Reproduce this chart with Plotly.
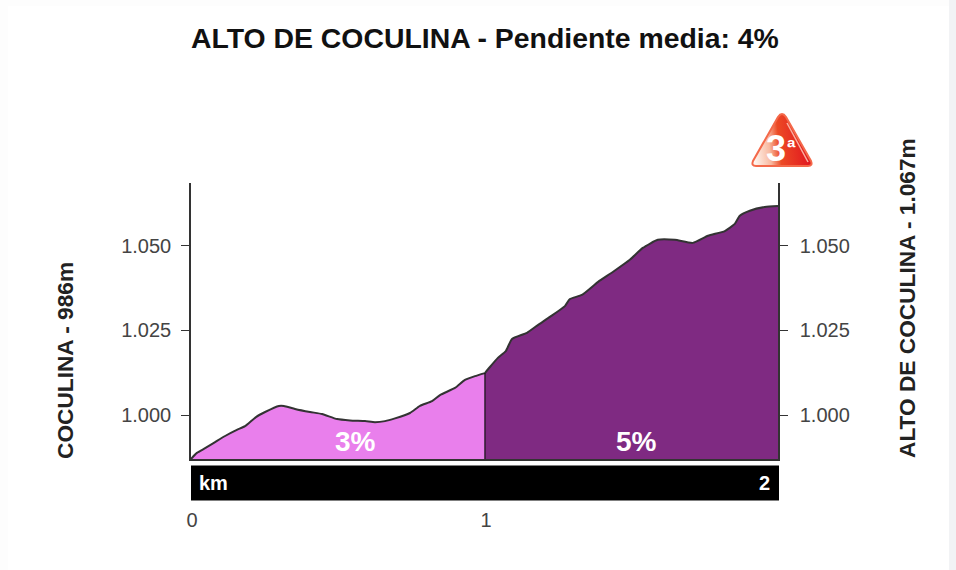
import base64
import plotly.graph_objects as go

TITLE = "ALTO DE COCULINA - Pendiente media: 4%"
START_LABEL = "COCULINA - 986m"
END_LABEL = "ALTO DE COCULINA - 1.067m"
KM_LOW = [0, 0.02, 0.048, 0.082, 0.116, 0.156, 0.184, 0.221, 0.252, 0.299, 0.316, 0.354, 0.405, 0.446,
          0.497, 0.541, 0.592, 0.626, 0.66, 0.694, 0.745, 0.779, 0.82, 0.847, 0.898, 0.932, 0.966, 1.0]
ELEV_LOW = [987.0, 988.8, 990.2, 992.0, 993.8, 995.6, 996.7, 999.4, 1000.9, 1002.7, 1002.7, 1001.8, 1000.9, 1000.3,
            998.8, 998.4, 998.2, 997.9, 998.2, 999.0, 1000.6, 1002.7, 1004.1, 1005.9, 1008.0, 1010.4, 1011.5, 1012.4]
KM_HIGH = [1.0, 1.017, 1.044, 1.071, 1.092, 1.143, 1.18, 1.221, 1.272, 1.289, 1.33, 1.384, 1.435, 1.493,
           1.537, 1.588, 1.646, 1.707, 1.759, 1.816, 1.85, 1.867, 1.901, 1.952, 1.997]
ELEV_HIGH = [1012.4, 1014.2, 1016.9, 1018.9, 1022.5, 1024.3, 1026.6, 1029.0, 1032.2, 1034.3, 1035.5, 1039.3, 1042.3, 1045.9,
             1049.4, 1051.8, 1051.8, 1050.9, 1053.0, 1054.4, 1056.5, 1058.9, 1060.4, 1061.5, 1061.8]
SEGMENT_LABELS = ["3%", "5%"]
SEGMENT_KM = [0.56, 1.517]
Y_TICKS = [1000, 1025, 1050]
Y_TICK_TEXT = ["1.000", "1.025", "1.050"]
X_TICKS = [0, 1]

W, H = 956, 570
L, R, T, B = 191, 778, 183, 459
FONT = "Liberation Sans"
AXIS = "#333333"


def px(x):
    return (x - L) / (R - L)


def py(y):
    return (B - y) / (B - T)


svg = """<svg xmlns='http://www.w3.org/2000/svg' viewBox='0 0 64 58'>
<defs><linearGradient id='g' x1='0' y1='0.6' x2='1' y2='0.5'>
<stop offset='0' stop-color='#fff6f0'/><stop offset='0.28' stop-color='#f8b9a0'/>
<stop offset='0.45' stop-color='#ec4a25'/><stop offset='1' stop-color='#e0101e'/></linearGradient></defs>
<path d='M32 3 Q30 3 28 6 L3 50 Q1 55 6 55 L58 55 Q63 55 61 50 L36 6 Q34 3 32 3 Z' fill='url(#g)' stroke='#f4694a' stroke-width='2'/>
<path d='M37 12 L58 51' stroke='#f9b0a0' stroke-width='1.5' fill='none'/>
</svg>"""
badge = "data:image/svg+xml;base64," + base64.b64encode(svg.encode()).decode()

fig = go.Figure()
fig.add_trace(go.Scatter(x=KM_LOW, y=ELEV_LOW, mode="lines", fill="tozeroy", fillcolor="#e97fec",
                         line=dict(color="#333333", width=2, shape="spline", smoothing=0.5), hoverinfo="skip", showlegend=False))
fig.add_trace(go.Scatter(x=KM_HIGH, y=ELEV_HIGH, mode="lines", fill="tozeroy", fillcolor="#7f2a82",
                         line=dict(color="#333333", width=2, shape="spline", smoothing=0.5), hoverinfo="skip", showlegend=False))
fig.add_trace(go.Scatter(x=[KM_LOW[-1], KM_LOW[-1]], y=[ELEV_LOW[0], ELEV_LOW[-1]], mode="lines",
                         line=dict(color="#111111", width=1.2), hoverinfo="skip", showlegend=False))

shapes = [
    dict(type="rect", xref="paper", yref="paper", x0=px(0), x1=px(W), y0=py(0), y1=py(H),
         fillcolor="#fdfdfd", line_width=0, layer="below"),
    dict(type="rect", xref="paper", yref="paper", x0=px(8), x1=px(949), y0=py(6), y1=py(H),
         fillcolor="#ffffff", line_width=0, layer="below"),
    dict(type="rect", xref="paper", yref="paper", x0=px(949), x1=px(W), y0=py(0), y1=py(H),
         fillcolor="#f2f3f5", line_width=0, layer="below"),
    dict(type="rect", xref="paper", yref="paper", x0=px(191), x1=px(779), y0=py(465.5), y1=py(500.5),
         fillcolor="#000000", line_width=0, layer="above"),
]

ann = [
    dict(text=f"<b>{TITLE}</b>", x=px(485), y=py(38), font=dict(size=28.4, color="#111111")),
    dict(text=f"<b>{START_LABEL}</b>", x=px(65), y=py(361), textangle=-90, font=dict(size=22.7, color="#222222")),
    dict(text=f"<b>{END_LABEL}</b>", x=px(907), y=py(298), textangle=-90, font=dict(size=22.7, color="#222222")),
    dict(text="<b>km</b>", x=px(213.5), y=py(483), font=dict(size=20, color="#ffffff")),
    dict(text="<b>2</b>", x=px(764), y=py(483), font=dict(size=20, color="#ffffff")),
    dict(text=f"<b>{SEGMENT_LABELS[0]}</b>", x=px(191 + SEGMENT_KM[0] * 294), y=py(441), font=dict(size=28, color="#ffffff")),
    dict(text=f"<b>{SEGMENT_LABELS[1]}</b>", x=px(191 + SEGMENT_KM[1] * 294), y=py(441), font=dict(size=28, color="#ffffff")),
    dict(text="<b>3</b>", x=px(776), y=py(149), font=dict(size=36, color="#ffffff")),
    dict(text="<b>ª</b>", x=px(791), y=py(147), font=dict(size=23, color="#ffffff")),
]
for a in ann:
    a.update(xref="paper", yref="paper", showarrow=False, xanchor="center", yanchor="middle")

fig.update_layout(
    width=W, height=H, autosize=False,
    margin=dict(l=L, r=W - R, t=T, b=H - B, pad=0),
    paper_bgcolor="#ffffff", plot_bgcolor="rgba(0,0,0,0)",
    font=dict(family=FONT, color="#333333"),
    shapes=shapes, annotations=ann,
    images=[dict(source=badge, xref="paper", yref="paper", x=px(750), y=py(111), sizex=(814 - 750) / (R - L),
                 sizey=(169 - 111) / (B - T), sizing="stretch", xanchor="left", yanchor="top", layer="above")],
    xaxis=dict(range=[0, KM_HIGH[-1]], tickvals=X_TICKS, ticks="", showgrid=False, zeroline=False,
               showline=True, linecolor=AXIS, linewidth=1.5, ticklabelstandoff=42, ticklabelshift=1,
               tickfont=dict(size=20, color="#444444"), fixedrange=True),
    yaxis=dict(range=[ELEV_LOW[0], 1068.6], tickvals=Y_TICKS, ticktext=Y_TICK_TEXT, ticks="outside", ticklen=8,
               tickcolor=AXIS, tickwidth=1, showgrid=False, zeroline=False, showline=True, linecolor=AXIS,
               linewidth=1.5, ticklabelstandoff=6, tickfont=dict(size=20, color="#444444"), fixedrange=True),
    yaxis2=dict(range=[ELEV_LOW[0], 1068.6], overlaying="y", side="right", tickvals=Y_TICKS, ticktext=Y_TICK_TEXT,
                ticks="outside", ticklen=8, tickcolor=AXIS, tickwidth=1, showgrid=False, zeroline=False, showline=True,
                linecolor=AXIS, linewidth=1.5, ticklabelstandoff=8, tickfont=dict(size=20, color="#444444"), fixedrange=True),
)
fig.add_trace(go.Scatter(x=[KM_HIGH[-1]], y=[ELEV_HIGH[-1]], yaxis="y2", mode="lines", hoverinfo="skip", showlegend=False))
fig.write_html("out.html", config={"displayModeBar": False},
               post_script="document.body.style.margin='0';document.documentElement.style.overflow='hidden';")
